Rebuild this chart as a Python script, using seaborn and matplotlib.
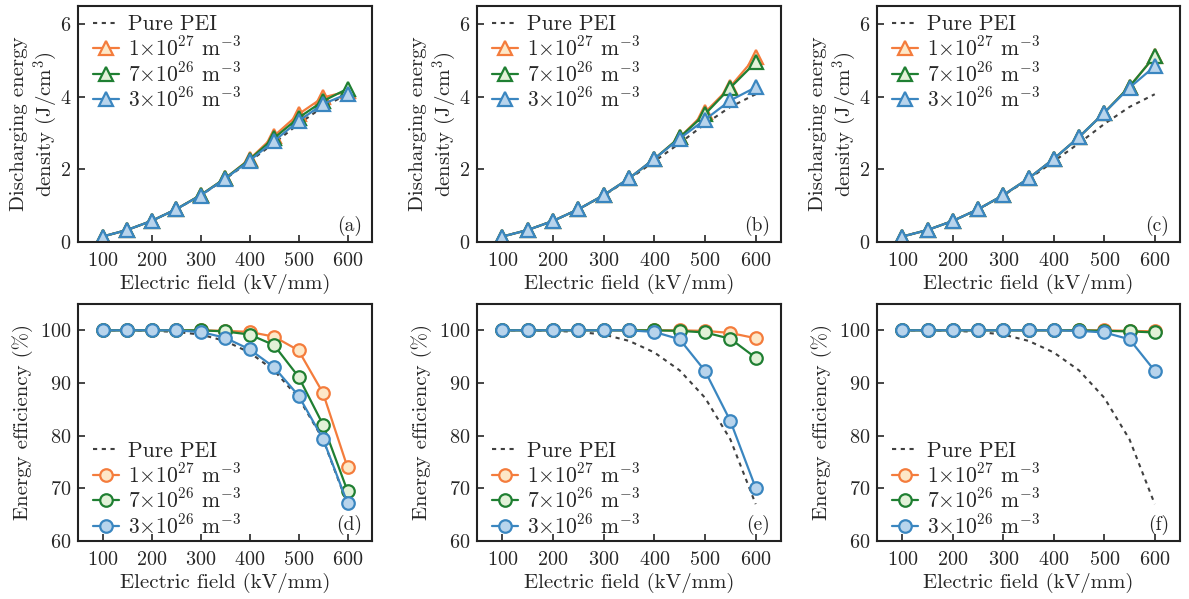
import matplotlib
matplotlib.use("Agg")
import matplotlib.pyplot as plt
import seaborn as sns

FIELD = [100, 150, 200, 250, 300, 350, 400, 450, 500, 550, 600]

SERIES = ["Pure PEI", r"1$\times$10$^{27}$ m$^{-3}$",
          r"7$\times$10$^{26}$ m$^{-3}$", r"3$\times$10$^{26}$ m$^{-3}$"]
PANELS = ["(a)", "(b)", "(c)", "(d)", "(e)", "(f)"]

# discharging energy density (J/cm3)
pei_energy = [0.15, 0.33, 0.58, 0.90, 1.28, 1.73, 2.22, 2.72, 3.25, 3.72, 4.07]
energy_a_1e27 = [0.15, 0.33, 0.58, 0.90, 1.29, 1.75, 2.28, 2.92, 3.52, 3.98, 4.15]
energy_a_7e26 = [0.15, 0.33, 0.58, 0.90, 1.29, 1.75, 2.27, 2.86, 3.42, 3.88, 4.22]
energy_a_3e26 = [0.15, 0.33, 0.58, 0.90, 1.28, 1.74, 2.24, 2.78, 3.33, 3.80, 4.08]
energy_b_1e27 = [0.15, 0.33, 0.58, 0.90, 1.29, 1.75, 2.29, 2.88, 3.57, 4.28, 5.10]
energy_b_7e26 = [0.15, 0.33, 0.58, 0.90, 1.29, 1.75, 2.29, 2.88, 3.52, 4.25, 4.95]
energy_b_3e26 = [0.15, 0.33, 0.58, 0.90, 1.29, 1.75, 2.29, 2.85, 3.37, 3.90, 4.26]
energy_c_1e27 = [0.15, 0.33, 0.58, 0.90, 1.29, 1.75, 2.29, 2.89, 3.56, 4.28, 5.12]
energy_c_7e26 = [0.15, 0.33, 0.58, 0.90, 1.29, 1.75, 2.29, 2.89, 3.56, 4.28, 5.12]
energy_c_3e26 = [0.15, 0.33, 0.58, 0.90, 1.29, 1.75, 2.29, 2.89, 3.56, 4.25, 4.84]

# energy efficiency (%)
pei_eff = [100.0, 100.0, 99.9, 99.7, 99.2, 98.0, 95.8, 92.4, 87.2, 79.3, 67.0]
eff_d_1e27 = [100.0, 100.0, 100.0, 100.0, 100.0, 99.9, 99.7, 98.8, 96.2, 88.1, 74.0]
eff_d_7e26 = [100.0, 100.0, 100.0, 100.0, 100.0, 99.8, 99.2, 97.2, 91.2, 82.1, 69.5]
eff_d_3e26 = [100.0, 100.0, 100.0, 100.0, 99.7, 98.6, 96.4, 93.0, 87.6, 79.4, 67.2]
eff_e_1e27 = [100.0, 100.0, 100.0, 100.0, 100.0, 100.0, 100.0, 100.0, 99.9, 99.5, 98.5]
eff_e_7e26 = [100.0, 100.0, 100.0, 100.0, 100.0, 100.0, 100.0, 99.9, 99.6, 98.4, 94.8]
eff_e_3e26 = [100.0, 100.0, 100.0, 100.0, 100.0, 100.0, 99.7, 98.3, 92.3, 82.8, 70.1]
eff_f_1e27 = [100.0, 100.0, 100.0, 100.0, 100.0, 100.0, 100.0, 100.0, 100.0, 99.9, 99.8]
eff_f_7e26 = [100.0, 100.0, 100.0, 100.0, 100.0, 100.0, 100.0, 100.0, 99.9, 99.8, 99.6]
eff_f_3e26 = [100.0, 100.0, 100.0, 100.0, 100.0, 100.0, 100.0, 99.9, 99.6, 98.3, 92.3]

TOP = [
    [energy_a_1e27, energy_a_7e26, energy_a_3e26],
    [energy_b_1e27, energy_b_7e26, energy_b_3e26],
    [energy_c_1e27, energy_c_7e26, energy_c_3e26],
]
BOTTOM = [
    [eff_d_1e27, eff_d_7e26, eff_d_3e26],
    [eff_e_1e27, eff_e_7e26, eff_e_3e26],
    [eff_f_1e27, eff_f_7e26, eff_f_3e26],
]

LINE_COLORS = ["#f47c3c", "#1f7f32", "#3a86c0"]
FACE_COLORS = ["#fde8c8", "#e2f1d8", "#b8d4ec"]
PEI_COLOR = "#404040"

sns.set_style("ticks")
plt.rcParams.update({
    "font.family": "serif",
    "font.serif": ["cmr10"],
    "mathtext.fontset": "cm",
    "axes.unicode_minus": False,
    "axes.formatter.use_mathtext": True,
    "axes.linewidth": 1.5,
    "axes.edgecolor": "#222222",
})

fig = plt.figure(figsize=(11.89, 5.99), dpi=100)

# axes boxes in pixels: (left, width)
cols = [(78, 294), (477, 304), (877, 303)]
rows = [(6, 236), (304, 237)]  # (top, height)
W, H = 1189, 599

LABEL_FS = 15
TICK_FS = 14.5
LEGEND_FS = 15.5


def make_ax(col, row):
    left, width = cols[col]
    top, height = rows[row]
    return fig.add_axes([left / W, 1 - (top + height) / H, width / W, height / H])


def style_ax(ax):
    ax.tick_params(direction="in", length=5, width=1.2, labelsize=TICK_FS,
                   top=False, right=False)
    ax.tick_params(axis="x", pad=7)
    ax.tick_params(axis="y", pad=5)
    for sp in ax.spines.values():
        sp.set_visible(True)
        sp.set_linewidth(1.5)
    ax.set_xlim(50, 650)
    ax.set_xticks([100, 200, 300, 400, 500, 600])
    ax.set_xlabel("Electric field (kV/mm)", fontsize=LABEL_FS, labelpad=3)


def add_legend(ax, loc, anchor):
    ax.legend(loc=loc, bbox_to_anchor=anchor, frameon=False, fontsize=LEGEND_FS,
              handlelength=1.2, handletextpad=0.4, labelspacing=0.08,
              borderaxespad=0.1, borderpad=0.3)


for i in range(3):
    # energy density
    ax = make_ax(i, 0)
    sns.lineplot(x=FIELD, y=pei_energy, ax=ax, color=PEI_COLOR, lw=1.5,
                 linestyle=(0, (2, 2.2)), label=SERIES[0])
    for k in range(3):
        sns.lineplot(x=FIELD, y=TOP[i][k], ax=ax, color=LINE_COLORS[k], lw=1.6,
                     marker="^", markersize=10, markerfacecolor=FACE_COLORS[k],
                     markeredgecolor=LINE_COLORS[k], markeredgewidth=1.6,
                     label=SERIES[k + 1])
    style_ax(ax)
    ax.set_ylim(0, 6.5)
    ax.set_yticks([0, 2, 4, 6])
    ax.set_ylabel("Discharging energy\ndensity (J/cm$^3$)", fontsize=LABEL_FS,
                  linespacing=1.15, labelpad=0)
    add_legend(ax, "upper left", (0.022, 1.0))
    ax.text(0.965, 0.025, PANELS[i], transform=ax.transAxes, ha="right",
            va="bottom", fontsize=14)

    # energy efficiency
    ax = make_ax(i, 1)
    sns.lineplot(x=FIELD, y=pei_eff, ax=ax, color=PEI_COLOR, lw=1.5,
                 linestyle=(0, (2, 2.2)), label=SERIES[0])
    for k in range(3):
        sns.lineplot(x=FIELD, y=BOTTOM[i][k], ax=ax, color=LINE_COLORS[k], lw=1.6,
                     marker="o", markersize=9, markerfacecolor=FACE_COLORS[k],
                     markeredgecolor=LINE_COLORS[k], markeredgewidth=1.6,
                     label=SERIES[k + 1])
    style_ax(ax)
    ax.set_ylim(60, 105)
    ax.set_yticks([60, 70, 80, 90, 100])
    ax.set_ylabel("Energy efficiency (%)", fontsize=LABEL_FS, labelpad=5)
    add_legend(ax, "lower left", (0.022, -0.021))
    ax.text(0.965, 0.025, PANELS[i + 3], transform=ax.transAxes, ha="right",
            va="bottom", fontsize=14)

fig.savefig("out.png", dpi=100)
